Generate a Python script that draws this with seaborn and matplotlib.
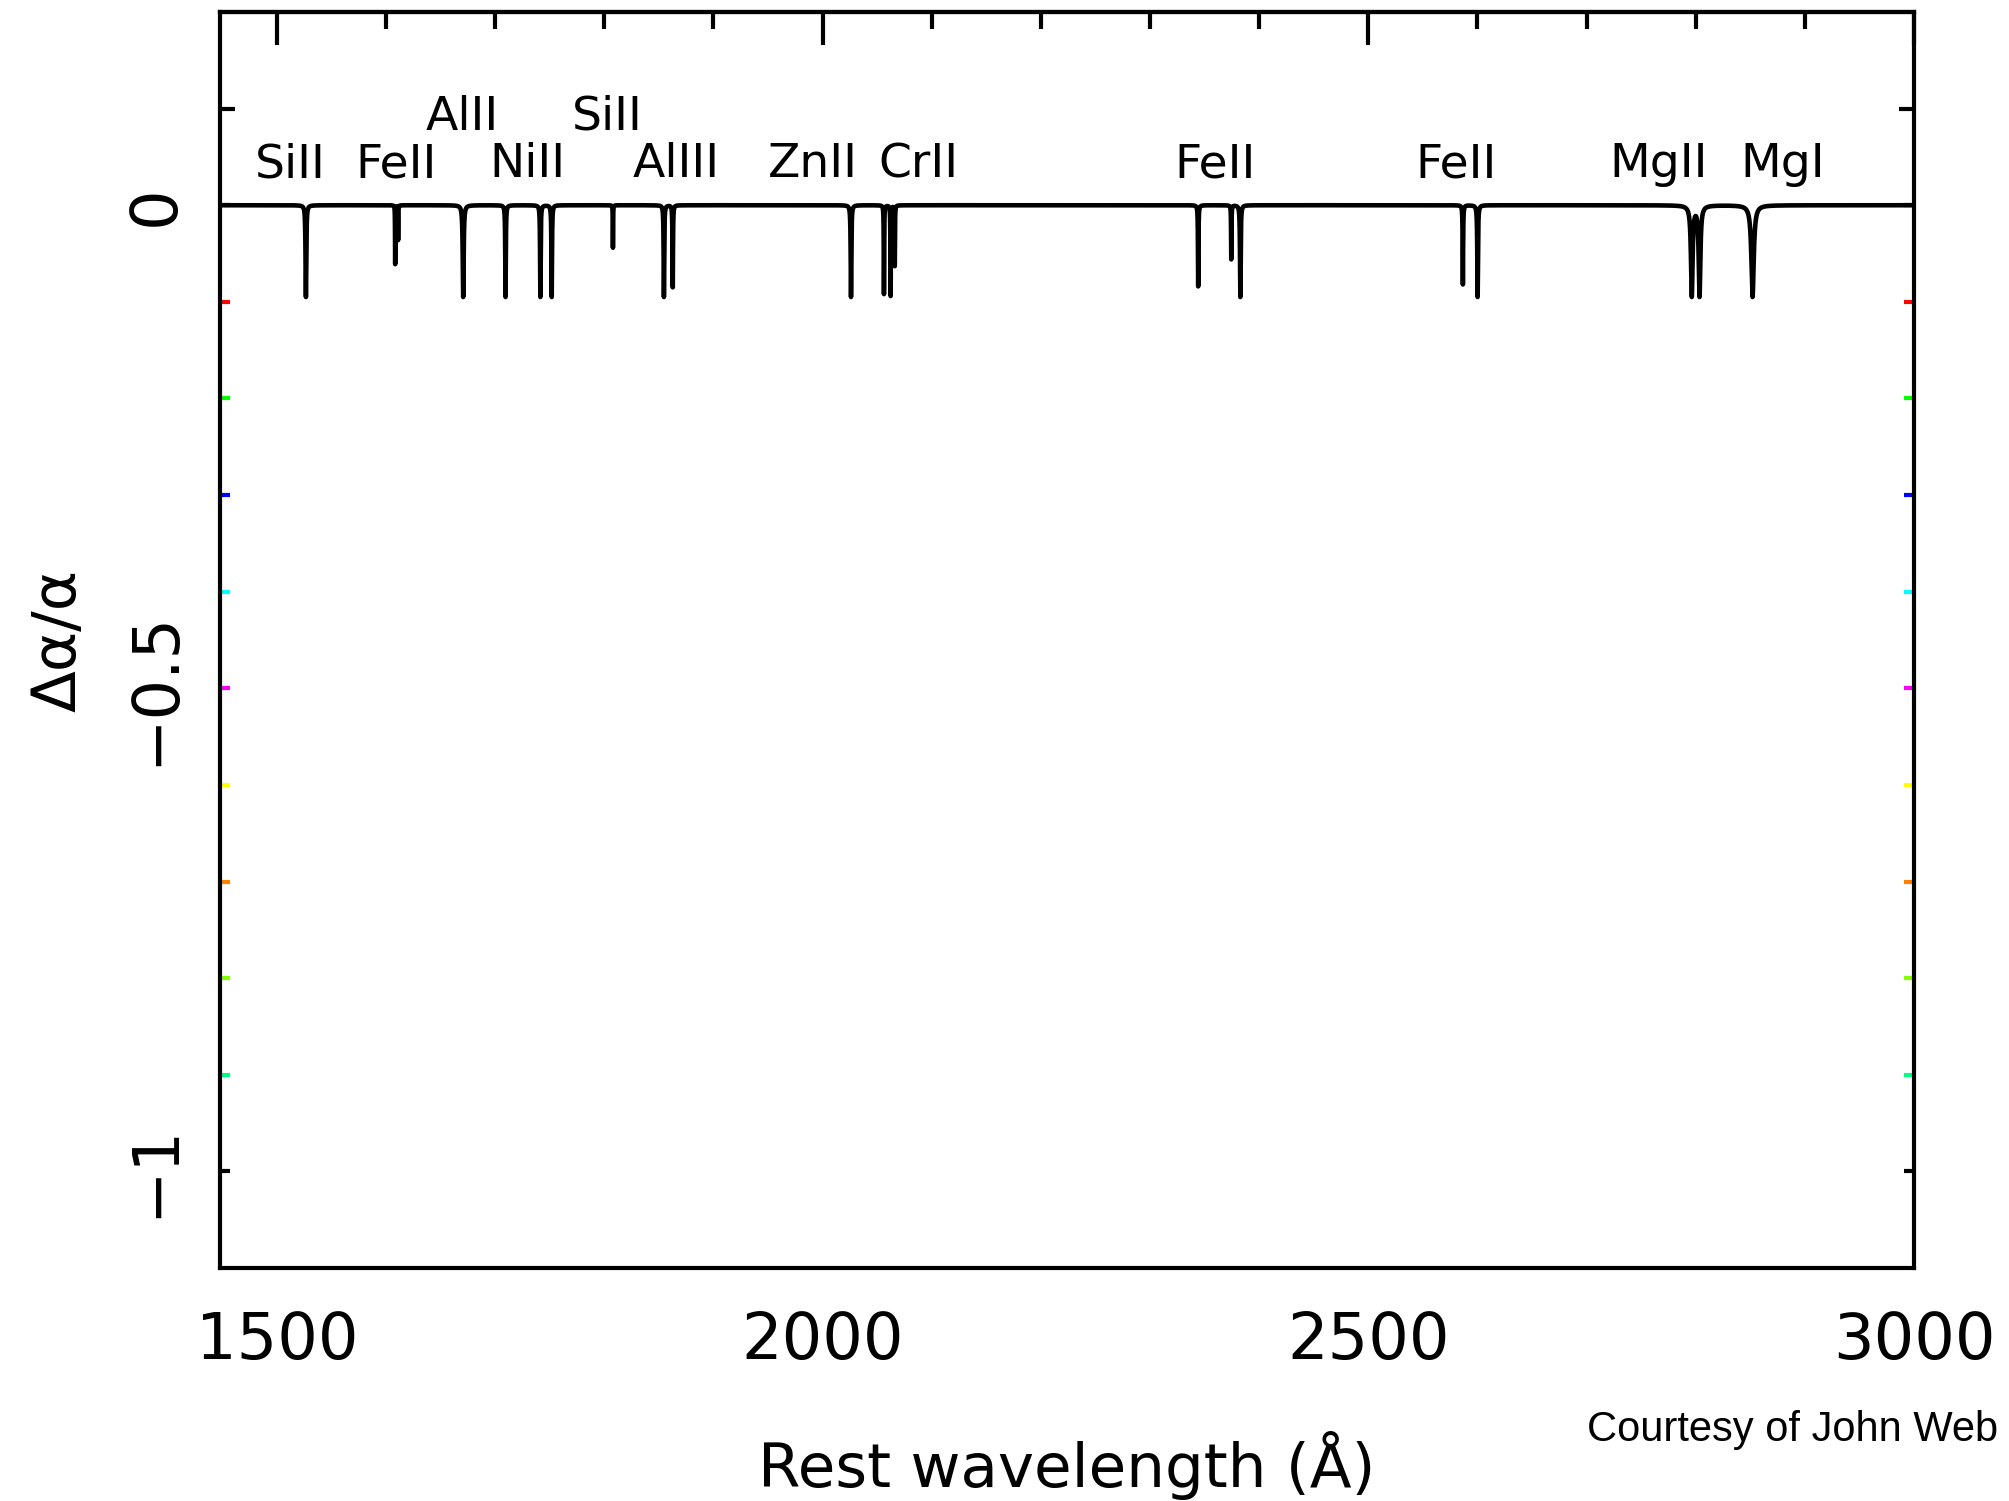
import numpy as np
import pandas as pd
import matplotlib
matplotlib.use("Agg")
import matplotlib.pyplot as plt
import seaborn as sns
from matplotlib.ticker import MultipleLocator, FixedLocator, NullFormatter

# ---------------- data ----------------
# absorption lines: rest wavelength (Angstrom), depth (in plot units), Lorentz half width (Angstrom)
line_wavelengths = [1526.7, 1608.5, 1611.2, 1670.8, 1709.6, 1741.5, 1751.9, 1808.0,
                    1854.7, 1862.8, 2026.1, 2056.3, 2062.4, 2066.2, 2344.2, 2374.5,
                    2382.8, 2586.7, 2600.2, 2796.4, 2803.5, 2852.1]
line_depths = [0.095, 0.061, 0.036, 0.095, 0.095, 0.095, 0.095, 0.044,
               0.095, 0.085, 0.095, 0.092, 0.094, 0.063, 0.084, 0.056,
               0.095, 0.082, 0.095, 0.095, 0.095, 0.095]
line_halfwidths = [0.4, 0.15, 0.15, 0.5, 0.3, 0.3, 0.3, 0.15,
                   0.3, 0.25, 0.35, 0.2, 0.2, 0.2, 0.25, 0.2,
                   0.35, 0.25, 0.35, 0.9, 0.9, 1.3]
saturation_depth = 0.095

# species labels
label_texts = ["SiII", "FeII", "AlII", "NiII", "SiII", "AlIII", "ZnII", "CrII",
               "FeII", "FeII", "MgII", "MgI"]
label_wavelengths = [1512, 1609, 1670, 1730, 1803, 1866, 1991, 2088,
                     2360, 2580, 2766, 2880]
label_levels = [0.029, 0.029, 0.078, 0.029, 0.078, 0.029, 0.029, 0.029,
                0.029, 0.029, 0.029, 0.029]

# axis ticks
x_major_ticks = [1500, 2000, 2500, 3000]
x_tick_labels = ["1500", "2000", "2500", "3000"]
y_tick_values = [0.1, 0.0, -0.1, -0.2, -0.3, -0.4, -0.5, -0.6, -0.7, -0.8, -0.9, -1.0]
y_tick_labels = ["", "0", "", "", "", "", "\u22120.5", "", "", "", "", "\u22121"]
y_tick_colors = ["black", "black", "#ff0000", "#00ff00", "#0000ff", "#00ffff", "#ff00ff",
                 "#ffff00", "#ff8000", "#80ff00", "#00ff80", "black"]

# ---------------- build spectrum from line list ----------------
wl = np.arange(1448.0, 3000.0001, 0.02)
wl = np.unique(np.concatenate([wl, np.array(line_wavelengths)]))
flux = np.ones_like(wl)
for c, d, g in zip(line_wavelengths, line_depths, line_halfwidths):
    prof = g**2 / ((wl - c) ** 2 + g**2)
    flux *= 1.0 - (d / saturation_depth) * prof
signal = -saturation_depth * (1.0 - flux)
df = pd.DataFrame({"wavelength": wl, "value": signal})

# ---------------- figure ----------------
sns.set_style("white")
plt.rcParams["font.family"] = ["DejaVu Sans"]
plt.rcParams["text.color"] = "black"
plt.rcParams["axes.labelcolor"] = "black"
plt.rcParams["xtick.color"] = "black"
plt.rcParams["ytick.color"] = "black"

fig = plt.figure(figsize=(20.09, 15.01), dpi=100)
ax = fig.add_axes([220 / 2009, 1 - 1268 / 1501, (1914 - 220) / 2009, (1268 - 12) / 1501])

sns.lineplot(data=df, x="wavelength", y="value", ax=ax, color="black", lw=3.3,
             estimator=None, sort=False, errorbar=None)

ax.set_xlim(1448, 3000)
ax.set_ylim(-1.1, 0.2)

for s in ax.spines.values():
    s.set_linewidth(3.0)
    s.set_color("black")
    s.set_visible(True)

# x axis (bottom): tiny inward ticks
ax.set_xticks(x_major_ticks, labels=x_tick_labels)
ax.xaxis.set_minor_locator(MultipleLocator(100))
ax.tick_params(axis="x", which="both", direction="in", length=1.5, width=2,
               bottom=True, top=False, labelsize=46, pad=30, colors="black")

# top axis: long inward ticks
sec = ax.secondary_xaxis("top")
sec.set_xticks(x_major_ticks)
sec.xaxis.set_minor_locator(MultipleLocator(100))
sec.xaxis.set_major_formatter(NullFormatter())
sec.tick_params(axis="x", which="major", direction="in", length=24, width=3.0,
                labeltop=False, colors="black")
sec.tick_params(axis="x", which="minor", direction="in", length=12, width=3.0, colors="black")
sec.spines["top"].set_linewidth(3.0)
sec.spines["top"].set_color("black")

# y axis
ax.set_yticks(y_tick_values, labels=y_tick_labels, rotation=90, va="center")
ax.tick_params(axis="y", which="major", direction="in", left=True, right=True,
               labelsize=46, pad=24, width=2.5, length=5, labelcolor="black")
ax.yaxis.set_minor_locator(FixedLocator([]))
ticks = ax.yaxis.get_major_ticks(len(y_tick_values))
for t, v, c in zip(ticks, y_tick_values, y_tick_colors):
    if abs(v - 0.1) < 1e-9:
        length = 11
    else:
        length = 7
    for tl in (t.tick1line, t.tick2line):
        tl.set_color(c)
        tl.set_markeredgecolor(c)
        tl.set_markersize(length)
        tl.set_markeredgewidth(3.0)
        tl.set_zorder(3)

# species labels
for txt, x, y in zip(label_texts, label_wavelengths, label_levels):
    ax.text(x, y, txt, ha="center", va="baseline", fontsize=34, color="black")

# axis labels
ax.set_xlabel("Rest wavelength (\u00c5)", fontsize=44, color="black")
ax.xaxis.set_label_coords(0.5, (1268 - 1465) / 1256)
ax.xaxis.label.set_va("center")
ax.set_ylabel("\u0394\u03b1/\u03b1", fontsize=44, color="black")
ax.yaxis.set_label_coords((59 - 220) / 1694, 0.5)
ax.yaxis.label.set_va("center")

fig.text(1587 / 2009, 1 - 1430 / 1501, "Courtesy of John Web", ha="left", va="center",
         fontsize=30, family=["Liberation Sans", "DejaVu Sans"], color="black")

fig.savefig("out.png", dpi=100, facecolor="white")
